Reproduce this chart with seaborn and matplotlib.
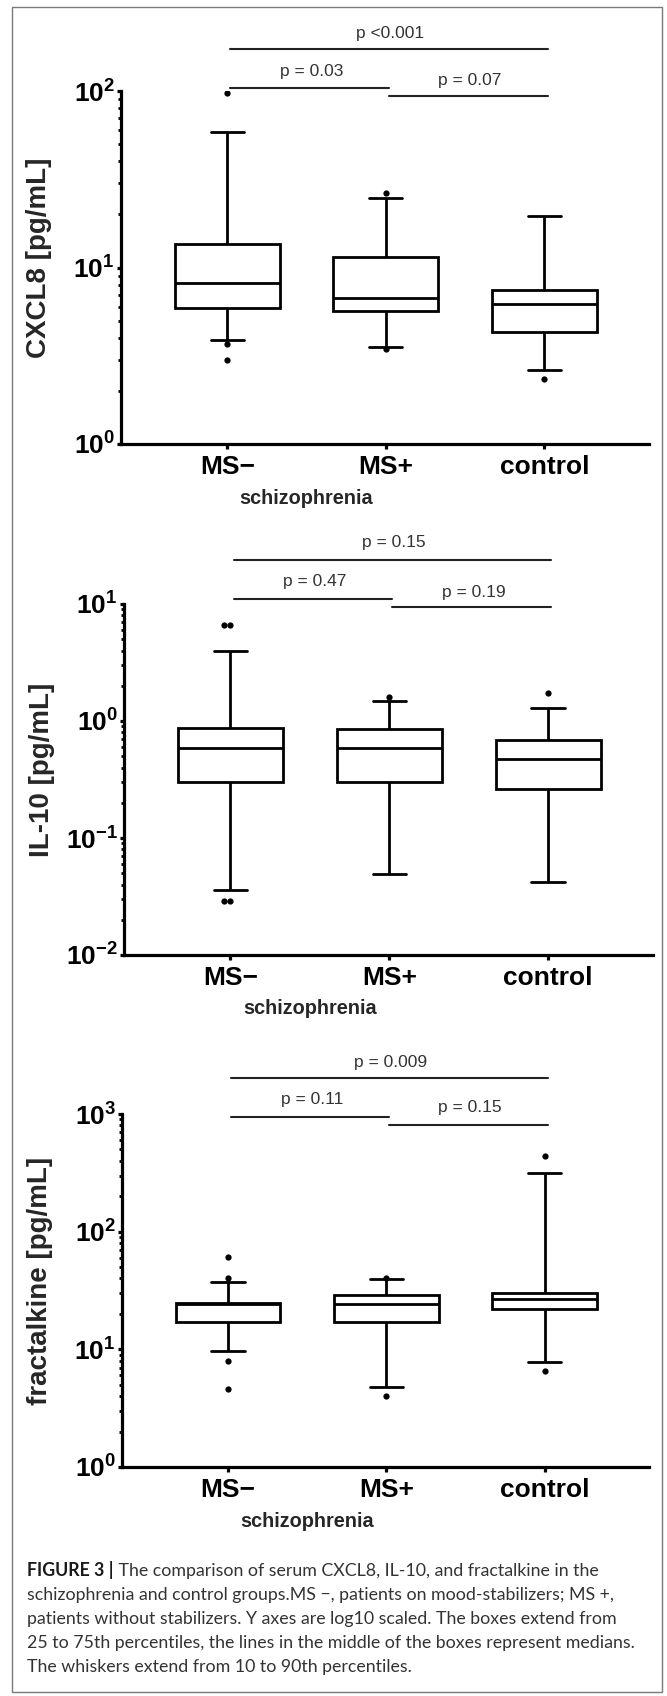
import numpy as np
import pandas as pd
import matplotlib
matplotlib.use('Agg')
import matplotlib.pyplot as plt
from matplotlib.patches import Rectangle
from matplotlib.ticker import FixedLocator, LogLocator, NullFormatter
from matplotlib.transforms import blended_transform_factory
import seaborn as sns

# grupos
groups = ['MS\u2212', 'MS+', 'control']
pairs = [(0, 1), (1, 2), (0, 2)]

# percentiles 10, 25, 50, 75, 90
cxcl8_stats = [[3.9, 5.9, 8.2, 13.6, 58.6],
               [3.55, 5.7, 6.7, 11.5, 24.8],
               [2.63, 4.3, 6.2, 7.5, 19.6]]
cxcl8_out = [[98, 3.7, 3.0], [26.5, 3.45], [2.33]]
cxcl8_p = ['p = 0.03', 'p = 0.07', 'p <0.001']

il10_stats = [[0.036, 0.30, 0.588, 0.87, 3.96],
              [0.049, 0.30, 0.588, 0.85, 1.49],
              [0.042, 0.26, 0.47, 0.688, 1.28]]
il10_out = [[6.6, 6.6, 0.029, 0.029], [1.61], [1.72]]
il10_p = ['p = 0.47', 'p = 0.19', 'p = 0.15']

fkn_stats = [[9.7, 17.1, 24.2, 24.8, 37.4],
             [4.8, 17.1, 24.3, 29.0, 39.6],
             [7.8, 22.0, 26.8, 30.1, 315]]
fkn_out = [[61, 40.6, 8.0, 4.6], [40.6, 4.0], [440, 6.5]]
fkn_p = ['p = 0.11', 'p = 0.15', 'p = 0.009']

caption_bold = 'FIGURE 3 |'
caption_lines = [
    ' The comparison of serum CXCL8, IL-10, and fractalkine in the',
    'schizophrenia and control groups.MS \u2212, patients on mood-stabilizers; MS +,',
    'patients without stabilizers. Y axes are log10 scaled. The boxes extend from',
    '25 to 75th percentiles, the lines in the middle of the boxes represent medians.',
    'The whiskers extend from 10 to 90th percentiles.',
]

W, H = 667, 1696


def px_rect(l, t, r, b):
    return [l / W, 1 - b / H, (r - l) / W, (b - t) / H]


def long_table(values):
    rows = []
    for g, vals in zip(groups, values):
        for v in vals:
            rows.append({'group': g, 'value': v})
    return pd.DataFrame(rows)


def draw_panel(fig, rect, stats, outliers, pvals, ylabel, decades, bar_y, text_y):
    ax = fig.add_axes(px_rect(*rect))

    # caja = p25-p75, bigotes = p10-p90 (los 5 valores de cada grupo)
    sns.boxplot(data=long_table(stats), x='group', y='value', order=groups,
                color='white', linecolor='black', linewidth=2, width=0.66,
                whis=(0, 100), showfliers=False, log_scale=True,
                capwidths=0.21, ax=ax)
    # valores fuera de los bigotes
    sns.swarmplot(data=long_table(outliers), x='group', y='value', order=groups,
                  color='black', size=4.5, log_scale=True, ax=ax)

    ax.set_xlim(-0.67, 2.66)
    ax.set_ylim(10.0 ** decades[0], 10.0 ** decades[-1])
    ax.yaxis.set_major_locator(FixedLocator([10.0 ** d for d in decades]))
    ax.set_yticklabels([r'$\mathbf{10}^{\mathbf{%d}}$' % d for d in decades])
    ax.yaxis.set_minor_locator(LogLocator(base=10, subs=np.arange(2, 10)))
    ax.yaxis.set_minor_formatter(NullFormatter())

    sns.despine(ax=ax)
    for s in ['left', 'bottom']:
        ax.spines[s].set_linewidth(2.3)
        ax.spines[s].set_color('black')
    ax.tick_params(axis='y', which='major', length=3, width=2.3, pad=1.5,
                   labelsize=19, colors='black')
    ax.tick_params(axis='y', which='minor', length=2.2, width=2.0, colors='black')
    ax.tick_params(axis='x', length=3.5, width=2.3, pad=4.5, labelsize=19,
                   colors='black')
    for lab in ax.get_xticklabels():
        lab.set_fontweight('bold')

    ax.set_xlabel('')
    ax.set_ylabel(ylabel, fontsize=20, fontweight='bold')
    ax.yaxis.set_label_coords(-0.13, 0.527)

    trans = blended_transform_factory(ax.transData, ax.transAxes)
    ax.text(0.5, -0.153, 'schizophrenia', transform=trans, ha='center',
            va='center', fontsize=14.3, fontweight='bold')

    # barras de comparaciones
    for (i, j), label, yb, yt in zip(pairs, pvals, bar_y, text_y):
        ax.plot([i + 0.02, j + 0.02], [yb, yb], transform=trans,
                color='#222222', lw=1.5, clip_on=False)
        ax.text((i + j) / 2 + 0.03, yt, label, transform=trans, ha='center',
                va='center', fontsize=12.5, color='#333333')
    return ax


def main():
    sns.set_style('ticks')
    plt.rcParams['font.family'] = ['Liberation Sans', 'DejaVu Sans']
    plt.rcParams['mathtext.fontset'] = 'custom'
    plt.rcParams['mathtext.rm'] = 'Liberation Sans'
    plt.rcParams['mathtext.bf'] = 'Liberation Sans:bold'
    plt.rcParams['mathtext.it'] = 'Liberation Sans:italic'

    fig = plt.figure(figsize=(W / 100, H / 100), dpi=100)

    draw_panel(fig, (121, 91, 649, 444), cxcl8_stats, cxcl8_out, cxcl8_p,
               'CXCL8 [pg/mL]', [0, 1, 2],
               [1.0085, 0.986, 1.119], [1.054, 1.031, 1.164])
    draw_panel(fig, (124, 604, 653, 955), il10_stats, il10_out, il10_p,
               'IL-10 [pg/mL]', [-2, -1, 0, 1],
               [1.014, 0.991, 1.125], [1.063, 1.034, 1.174])
    draw_panel(fig, (122, 1114, 649, 1467), fkn_stats, fkn_out, fkn_p,
               'fractalkine [pg/mL]', [0, 1, 2, 3],
               [0.9915, 0.969, 1.102], [1.04, 1.017, 1.147])

    # marco gris
    fig.patches.append(Rectangle((12 / W, 1 - 1692 / H), 650 / W, 1685 / H,
                                 transform=fig.transFigure, fill=False,
                                 ec='#7a7a7a', lw=1.0))

    # leyenda de la figura
    cap = fig.add_axes([0, 0, 1, 1])
    cap.set_axis_off()
    cap.patch.set_alpha(0)
    fam = ['Liberation Sans Narrow', 'Lato', 'Liberation Sans', 'DejaVu Sans']
    y0, step = 1576, 24
    texts = []
    tb = fig.text(27 / W, 1 - y0 / H, caption_bold, fontsize=13, family=fam,
                  fontweight='bold', va='baseline', color='#1a1a1a')
    texts.append(tb)
    t = cap.annotate(caption_lines[0], xy=(1, 1 - y0 / H),
                     xycoords=(tb, 'figure fraction'), va='baseline',
                     fontsize=13, family=fam, fontweight='normal',
                     color='#333333')
    texts.append(t)
    for k, line in enumerate(caption_lines[1:], start=1):
        t = fig.text(27 / W, 1 - (y0 + k * step) / H, line, fontsize=13,
                     family=fam, fontweight='normal', va='baseline',
                     color='#333333')
        texts.append(t)

    # ajustar tamaño para que la linea mas larga ocupe ~607 px
    renderer = fig.canvas.get_renderer()
    widest = max(t.get_window_extent(renderer).width for t in texts[2:])
    scale = 607 / widest
    for t in texts:
        t.set_fontsize(13 * scale)

    fig.savefig('out.png', dpi=100)


if __name__ == "__main__":
    main()
